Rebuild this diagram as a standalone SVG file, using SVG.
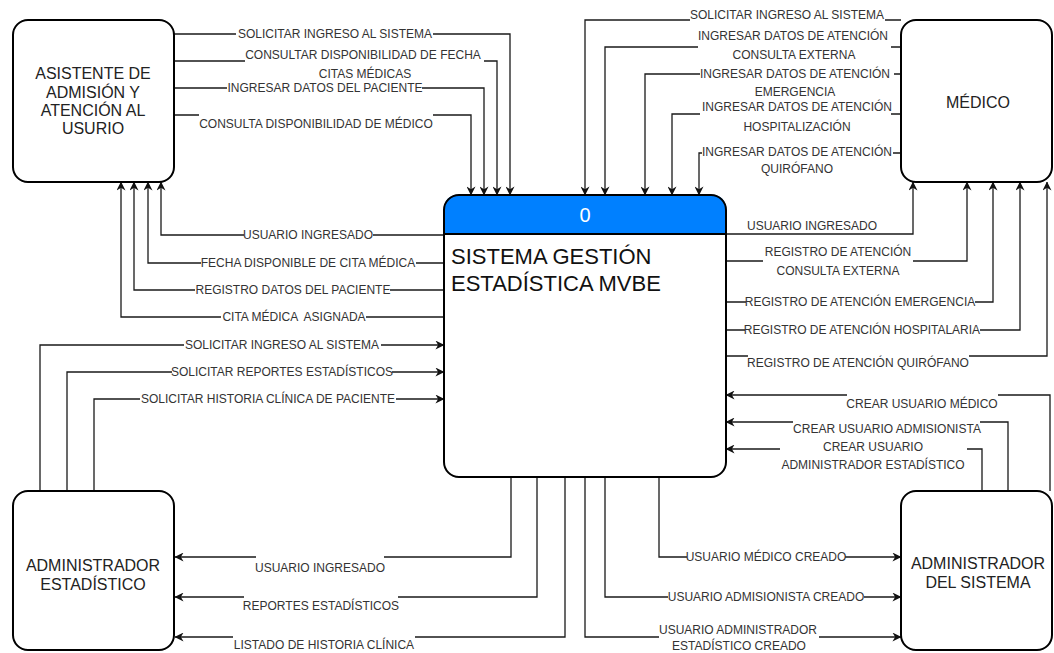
<svg xmlns="http://www.w3.org/2000/svg" width="1054" height="653" viewBox="0 0 1054 653">
  <defs>
    <marker id="arrow" viewBox="0 0 10 10" refX="9.5" refY="5" markerWidth="9" markerHeight="9" markerUnits="userSpaceOnUse" orient="auto">
      <path d="M0,0 L10,5 L0,10 L3,5 Z" fill="#111"/>
    </marker>
    <style>
      .box { fill: #fff; stroke: #000; stroke-width: 2; }
      .ntxt { font-family: "Liberation Sans", Arial, sans-serif; font-size: 16px; fill: #222; text-anchor: middle; }
      .c path { fill: none; stroke: #1a1a1a; stroke-width: 1.3; marker-end: url(#arrow); }
      .bg { fill: #fff; }
      .lbl { font-family: "Liberation Sans", Arial, sans-serif; font-size: 12px; fill: #333; text-anchor: middle; white-space: pre; }
    </style>
  </defs>
  <rect width="1054" height="653" fill="#fff"/>

  <!-- data flows -->
  <g id="connectors" class="c">
    <!-- asistente -> sistema -->
    <path d="M174,34 H510 V195"/>
    <path d="M174,61 H497 V195"/>
    <path d="M174,88 H484 V195"/>
    <path d="M174,115 H471 V195"/>
    <!-- sistema -> asistente -->
    <path d="M444,235 H161 V182"/>
    <path d="M444,263 H148 V182"/>
    <path d="M444,290 H134 V182"/>
    <path d="M444,317 H121 V182"/>
    <!-- administrador estadistico -> sistema -->
    <path d="M40,491 V345 H444"/>
    <path d="M67,491 V372 H444"/>
    <path d="M94,491 V399 H444"/>
    <!-- sistema -> administrador estadistico -->
    <path d="M511,477 V557 H175"/>
    <path d="M537,477 V597 H175"/>
    <path d="M565,477 V637 H175"/>
    <!-- medico -> sistema -->
    <path d="M901,20 H585 V195"/>
    <path d="M901,47 H605 V195"/>
    <path d="M901,74 H645 V195"/>
    <path d="M901,114 H672 V195"/>
    <path d="M901,153 H699 V195"/>
    <!-- sistema -> medico -->
    <path d="M726,234 H913 V182"/>
    <path d="M726,261 H967 V182"/>
    <path d="M726,302 H993 V182"/>
    <path d="M726,330 H1020 V182"/>
    <path d="M726,356 H1047 V182"/>
    <!-- administrador del sistema -> sistema -->
    <path d="M1050,491 V395 H726"/>
    <path d="M1008,491 V422 H726"/>
    <path d="M982,491 V449 H726"/>
    <!-- sistema -> administrador del sistema -->
    <path d="M659,477 V557 H901"/>
    <path d="M605,477 V597 H901"/>
    <path d="M585,477 V637 H901"/>
  </g>

  <!-- flow labels -->
  <g id="labels">
    <rect class="bg" x="236" y="27" width="197" height="14"/>
    <text class="lbl" x="335" y="38">SOLICITAR INGRESO AL SISTEMA</text>
    <rect class="bg" x="245" y="48" width="239" height="32"/>
    <text class="lbl" x="363" y="59">CONSULTAR DISPONIBILIDAD DE FECHA</text>
    <text class="lbl" x="365" y="78">CITAS MÉDICAS</text>
    <rect class="bg" x="227" y="81" width="195" height="14"/>
    <text class="lbl" x="325" y="92">INGRESAR DATOS DEL PACIENTE</text>
    <rect class="bg" x="199" y="110" width="234" height="21"/>
    <text class="lbl" x="316" y="128">CONSULTA DISPONIBILIDAD DE MÉDICO</text>

    <rect class="bg" x="244" y="228" width="129" height="14"/>
    <text class="lbl" x="308" y="239">USUARIO INGRESADO</text>
    <rect class="bg" x="201" y="256" width="215" height="14"/>
    <text class="lbl" x="308" y="267">FECHA DISPONIBLE DE CITA MÉDICA</text>
    <rect class="bg" x="195" y="283" width="195" height="14"/>
    <text class="lbl" x="293" y="294">REGISTRO DATOS DEL PACIENTE</text>
    <rect class="bg" x="221" y="310" width="145" height="14"/>
    <text class="lbl" x="294" y="321">CITA MÉDICA  ASIGNADA</text>

    <rect class="bg" x="184" y="338" width="197" height="14"/>
    <text class="lbl" x="282" y="349">SOLICITAR INGRESO AL SISTEMA</text>
    <rect class="bg" x="172" y="365" width="220" height="14"/>
    <text class="lbl" x="282" y="376">SOLICITAR REPORTES ESTADÍSTICOS</text>
    <rect class="bg" x="140" y="392" width="256" height="14"/>
    <text class="lbl" x="268" y="403">SOLICITAR HISTORIA CLÍNICA DE PACIENTE</text>

    <rect class="bg" x="256" y="552" width="128" height="22"/>
    <text class="lbl" x="320" y="572">USUARIO INGRESADO</text>
    <rect class="bg" x="244" y="592" width="154" height="21"/>
    <text class="lbl" x="321" y="610">REPORTES ESTADÍSTICOS</text>
    <rect class="bg" x="233" y="632" width="182" height="21"/>
    <text class="lbl" x="324" y="649">LISTADO DE HISTORIA CLÍNICA</text>

    <rect class="bg" x="690" y="8" width="195" height="14"/>
    <text class="lbl" x="787" y="19">SOLICITAR INGRESO AL SISTEMA</text>
    <rect class="bg" x="698" y="29" width="193" height="32"/>
    <text class="lbl" x="793" y="40">INGRESAR DATOS DE ATENCIÓN</text>
    <text class="lbl" x="794" y="59">CONSULTA EXTERNA</text>
    <rect class="bg" x="700" y="67" width="194" height="14"/>
    <text class="lbl" x="795" y="78">INGRESAR DATOS DE ATENCIÓN</text>
    <text class="lbl" x="795" y="96">EMERGENCIA</text>
    <rect class="bg" x="700" y="100" width="191" height="32"/>
    <text class="lbl" x="797" y="111">INGRESAR DATOS DE ATENCIÓN</text>
    <text class="lbl" x="797" y="131">HOSPITALIZACIÓN</text>
    <rect class="bg" x="702" y="145" width="191" height="30"/>
    <text class="lbl" x="797" y="156">INGRESAR DATOS DE ATENCIÓN</text>
    <text class="lbl" x="797" y="173">QUIRÓFANO</text>

    <text class="lbl" x="812" y="230">USUARIO INGRESADO</text>
    <rect class="bg" x="763" y="245" width="150" height="32"/>
    <text class="lbl" x="838" y="256">REGISTRO DE ATENCIÓN</text>
    <text class="lbl" x="838" y="275">CONSULTA EXTERNA</text>
    <rect class="bg" x="746" y="295" width="229" height="14"/>
    <text class="lbl" x="860" y="306">REGISTRO DE ATENCIÓN EMERGENCIA</text>
    <rect class="bg" x="745" y="323" width="235" height="14"/>
    <text class="lbl" x="862" y="334">REGISTRO DE ATENCIÓN HOSPITALARIA</text>
    <rect class="bg" x="748" y="350" width="221" height="20"/>
    <text class="lbl" x="858" y="367">REGISTRO DE ATENCIÓN QUIRÓFANO</text>

    <rect class="bg" x="847" y="390" width="151" height="21"/>
    <text class="lbl" x="922" y="408">CREAR USUARIO MÉDICO</text>
    <rect class="bg" x="793" y="417" width="187" height="19"/>
    <text class="lbl" x="887" y="433">CREAR USUARIO ADMISIONISTA</text>
    <rect class="bg" x="780" y="440" width="187" height="32"/>
    <text class="lbl" x="873" y="451">CREAR USUARIO</text>
    <text class="lbl" x="873" y="469">ADMINISTRADOR ESTADÍSTICO</text>

    <rect class="bg" x="687" y="550" width="158" height="14"/>
    <text class="lbl" x="766" y="561">USUARIO MÉDICO CREADO</text>
    <rect class="bg" x="668" y="590" width="196" height="14"/>
    <text class="lbl" x="766" y="601">USUARIO ADMISIONISTA CREADO</text>
    <rect class="bg" x="659" y="624" width="160" height="29"/>
    <text class="lbl" x="738" y="634">USUARIO ADMINISTRADOR</text>
    <text class="lbl" x="739" y="650">ESTADÍSTICO CREADO</text>
  </g>

  <!-- external entities -->
  <g id="asistente">
    <rect class="box" x="13" y="20" width="161" height="162" rx="15"/>
    <text class="ntxt" x="93" y="79">ASISTENTE DE</text>
    <text class="ntxt" x="93" y="98">ADMISIÓN Y</text>
    <text class="ntxt" x="93" y="116">ATENCIÓN AL</text>
    <text class="ntxt" x="93" y="134">USURIO</text>
  </g>

  <g id="medico">
    <rect class="box" x="901" y="20" width="151" height="162" rx="15"/>
    <text class="ntxt" x="978" y="108">MÉDICO</text>
  </g>

  <g id="administrador-estadistico">
    <rect class="box" x="13" y="491" width="161" height="159" rx="15"/>
    <text class="ntxt" x="93" y="571">ADMINISTRADOR</text>
    <text class="ntxt" x="93" y="590">ESTADÍSTICO</text>
  </g>

  <g id="administrador-sistema">
    <rect class="box" x="901" y="491" width="151" height="159" rx="15"/>
    <text class="ntxt" x="978" y="569">ADMINISTRADOR</text>
    <text class="ntxt" x="978" y="588">DEL SISTEMA</text>
  </g>

  <!-- process 0 -->
  <g id="proceso-0">
    <rect x="444" y="195" width="282" height="282" rx="15" fill="#fff"/>
    <path d="M444,234 V210 Q444,195 459,195 H711 Q726,195 726,210 V234 Z" fill="#0080ff"/>
    <line x1="444" y1="234" x2="726" y2="234" stroke="#000" stroke-width="2"/>
    <rect x="444" y="195" width="282" height="282" rx="15" fill="none" stroke="#000" stroke-width="2"/>
    <text x="585" y="222" font-family="'Liberation Sans', Arial, sans-serif" font-size="20" fill="#fff" text-anchor="middle">0</text>
    <text x="451" y="264" font-family="'Liberation Sans', Arial, sans-serif" font-size="22" fill="#111">SISTEMA GESTIÓN</text>
    <text x="451" y="291" font-family="'Liberation Sans', Arial, sans-serif" font-size="22" fill="#111">ESTADÍSTICA MVBE</text>
  </g>
</svg>
